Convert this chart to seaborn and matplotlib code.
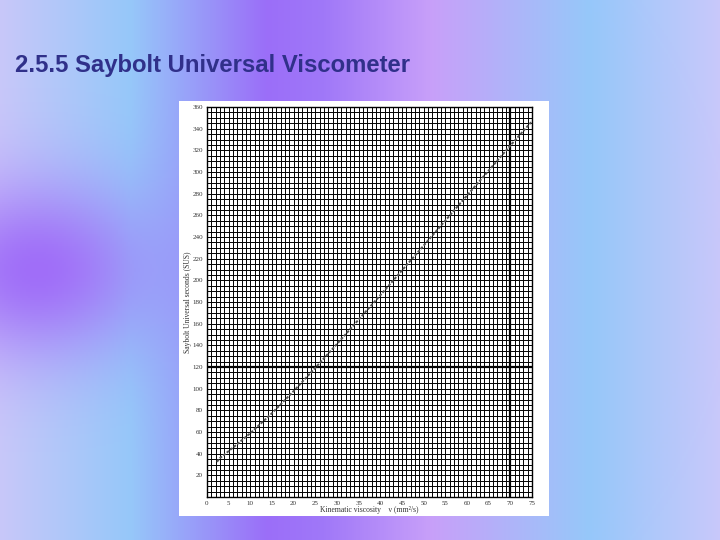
import numpy as np
import pandas as pd
import seaborn as sns
import matplotlib.pyplot as plt

# kinematic viscosity (mm2/s) vs Saybolt Universal Seconds
nu = [2.3, 3, 4, 5, 6, 8, 10, 15, 20, 25, 30, 40, 50, 60, 70, 74.8]
sus = [32.5, 36.0, 39.1, 42.4, 45.6, 52.3, 58.9, 77.4, 97.8, 119.3, 141.3, 186.3, 232.1, 278.3, 324.4, 346.0]

x_ticks = list(range(0, 80, 5))
y_ticks = list(range(20, 380, 20))

sns.set_style("white")
plt.rcParams['font.family'] = ['Liberation Serif', 'DejaVu Serif']

fig = plt.figure(figsize=(7.2, 5.4), dpi=100)

# slide background
bg = fig.add_axes([0, 0, 1, 1])
bg.set_axis_off()
w, h = 360, 270
xs = np.linspace(0, 1, w)
ys = np.linspace(0, 1, h)
stops = [0.0, 0.18, 0.37, 0.45, 0.6, 0.82, 1.0]
cols = np.array([[200, 200, 250], [150, 200, 250], [155, 110, 248], [160, 120, 248],
                 [200, 160, 250], [150, 200, 250], [200, 200, 250]]) / 255
img = np.zeros((h, w, 3))
for c in range(3):
    img[:, :, c] = np.interp(xs, stops, cols[:, c])[None, :]
X, Y = np.meshgrid(xs, ys)
blob = np.exp(-(((X - 0.05) / 0.16) ** 2 + ((Y - 0.5) / 0.16) ** 2))
purple = np.array([160, 110, 248]) / 255
img = img * (1 - blob[..., None]) + purple * blob[..., None]
bg.imshow(img, aspect='auto', extent=[0, 1, 0, 1], origin='upper')
bg.set_xlim(0, 1)
bg.set_ylim(0, 1)

fig.text(0.021, 0.879, "2.5.5 Saybolt Universal Viscometer", family=['Liberation Sans', 'DejaVu Sans'],
         fontsize=17.2, fontweight='bold', color='#30308a', va='center')

# white paper of the scanned chart
paper = fig.add_axes([0.2486, 0.0444, 0.5139, 0.7685])
paper.set_facecolor('white')
paper.set_xticks([])
paper.set_yticks([])
for s in paper.spines.values():
    s.set_visible(False)

ax = fig.add_axes([0.2875, 0.0796, 0.4514, 0.7222])
ax.set_facecolor('white')
for v in np.arange(0, 76, 1):
    ax.axvline(v, color='black', lw=1.6 if v == 70 else 0.7, zorder=1)
for v in np.arange(0, 361, 5):
    ax.axhline(v, color='black', lw=1.6 if v == 120 else 0.7, zorder=1)

df = pd.DataFrame({'nu': nu, 'sus': sus})
sns.lineplot(data=df, x='nu', y='sus', ax=ax, color='#555555', lw=1.4,
             linestyle=(0, (1.5, 0.8)), zorder=3)

ax.set_xlim(0, 75)
ax.set_ylim(0, 360)
ax.set_xticks(x_ticks)
ax.set_xticklabels([str(t) for t in x_ticks])
ax.set_yticks(y_ticks)
ax.set_yticklabels([str(t) for t in y_ticks])
ax.tick_params(length=0, labelsize=5, pad=3, colors='#333333')
for s in ax.spines.values():
    s.set_color('black')
    s.set_linewidth(1.0)
ax.set_xlabel("Kinematic viscosity    \u03bd (mm\u00b2/s)", fontsize=5.5, labelpad=0, color='#333333')
ax.set_ylabel("Saybolt Universal seconds (SUS)", fontsize=5.5, labelpad=0, color='#333333')

fig.savefig('out.png', dpi=100)
